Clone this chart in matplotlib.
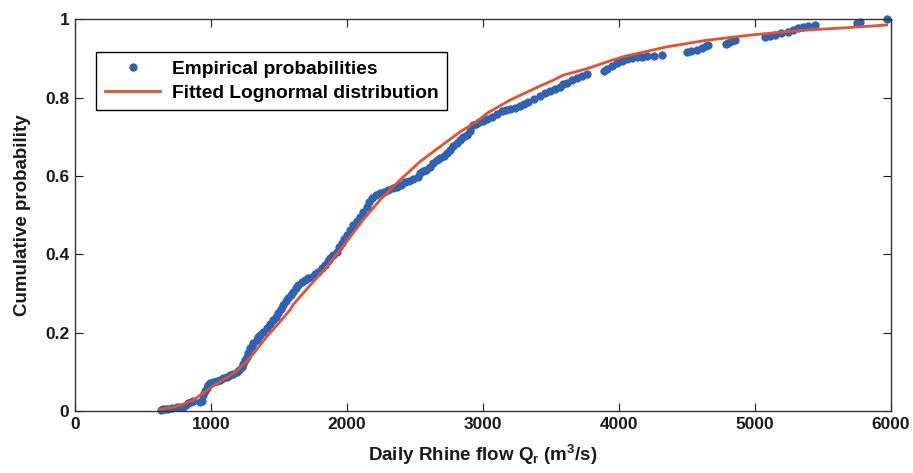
import matplotlib
matplotlib.use('Agg')
import matplotlib.pyplot as plt

plt.rcParams['font.family'] = ['Liberation Sans', 'DejaVu Sans']
plt.rcParams['font.weight'] = 'bold'
plt.rcParams['mathtext.fontset'] = 'custom'
plt.rcParams['mathtext.rm'] = 'Liberation Sans:bold'
plt.rcParams['mathtext.it'] = 'Liberation Sans:bold'
plt.rcParams['mathtext.bf'] = 'Liberation Sans:bold'

# Empirical probabilities
emp_q = [635, 649, 668, 686, 717, 748, 772, 796, 815, 833, 852, 870, 918, 931, 943,
         955, 968, 980, 993, 1018, 1042, 1066, 1091, 1115, 1140, 1165, 1189, 1207,
         1226, 1238, 1250, 1262, 1274, 1290, 1300, 1311, 1336, 1348, 1360, 1385,
         1410, 1434, 1458, 1477, 1495, 1514, 1532, 1550, 1568, 1587, 1605, 1624,
         1642, 1666, 1691, 1716, 1740, 1765, 1789, 1813, 1838, 1857, 1875, 1900,
         1924, 1943, 1961, 1980, 1998, 2022, 2046, 2071, 2096, 2120, 2145, 2163,
         2182, 2212, 2243, 2273, 2304, 2335, 2365, 2396, 2427, 2458, 2488, 2519,
         2537, 2560, 2580, 2610, 2635, 2660, 2684, 2710, 2733, 2757, 2782, 2807,
         2831, 2856, 2880, 2905, 2929, 2950, 2970, 3002, 3033, 3064, 3100, 3137,
         3168, 3198, 3235, 3272, 3300, 3333, 3375, 3419, 3456, 3493, 3530, 3566,
         3591, 3615, 3652, 3689, 3725, 3762, 3890, 3909, 3945, 3983, 4020, 4056,
         4093, 4130, 4166, 4203, 4260, 4313, 4500, 4530, 4570, 4610, 4640, 4657,
         4790, 4804, 4830, 4853, 5074, 5110, 5147, 5190, 5245, 5280, 5319, 5355,
         5392, 5441, 5748, 5772, 5970]
emp_p = [0.002, 0.004, 0.004, 0.005, 0.007, 0.009, 0.010, 0.011, 0.016, 0.020,
         0.023, 0.026, 0.022, 0.026, 0.041, 0.050, 0.058, 0.066, 0.071, 0.073,
         0.076, 0.080, 0.084, 0.088, 0.092, 0.095, 0.099, 0.105, 0.113, 0.121,
         0.130, 0.138, 0.147, 0.160, 0.167, 0.173, 0.182, 0.188, 0.194, 0.201,
         0.211, 0.221, 0.232, 0.241, 0.250, 0.260, 0.271, 0.280, 0.288, 0.297,
         0.305, 0.313, 0.322, 0.330, 0.335, 0.339, 0.343, 0.350, 0.356, 0.364,
         0.373, 0.382, 0.390, 0.398, 0.407, 0.418, 0.428, 0.439, 0.450, 0.462,
         0.475, 0.486, 0.496, 0.509, 0.522, 0.533, 0.543, 0.551, 0.557, 0.560,
         0.564, 0.569, 0.573, 0.578, 0.584, 0.588, 0.592, 0.598, 0.607, 0.612,
         0.616, 0.624, 0.633, 0.640, 0.646, 0.652, 0.658, 0.667, 0.676, 0.685,
         0.692, 0.699, 0.706, 0.716, 0.731, 0.734, 0.737, 0.740, 0.746, 0.752,
         0.759, 0.765, 0.768, 0.771, 0.775, 0.780, 0.785, 0.790, 0.797, 0.805,
         0.811, 0.817, 0.822, 0.827, 0.834, 0.838, 0.845, 0.850, 0.855, 0.860,
         0.868, 0.873, 0.882, 0.890, 0.895, 0.898, 0.901, 0.903, 0.905, 0.907,
         0.908, 0.909, 0.916, 0.919, 0.923, 0.928, 0.932, 0.935, 0.937, 0.940,
         0.944, 0.948, 0.956, 0.959, 0.961, 0.965, 0.969, 0.974, 0.978, 0.981,
         0.984, 0.986, 0.992, 0.994, 1.000]

# Fitted lognormal CDF
fit_q = [625, 700, 796, 870, 919, 980, 1042, 1115, 1189, 1250, 1311, 1410, 1458,
         1581, 1605, 1752, 1826, 1875, 1949, 1998, 2120, 2243, 2390, 2537, 2684,
         2831, 2954, 3027, 3198, 3272, 3419, 3517, 3591, 3762, 3958, 4032, 4350,
         4645, 4988, 5331, 5674, 5968]
fit_p = [0.004, 0.008, 0.017, 0.028, 0.040, 0.055, 0.070, 0.085, 0.102, 0.122,
         0.146, 0.190, 0.208, 0.258, 0.272, 0.330, 0.358, 0.378, 0.411, 0.433,
         0.489, 0.539, 0.590, 0.637, 0.675, 0.713, 0.739, 0.760, 0.794, 0.806,
         0.830, 0.845, 0.858, 0.874, 0.897, 0.905, 0.930, 0.947, 0.961, 0.972,
         0.979, 0.986]

x_ticks = [0, 1000, 2000, 3000, 4000, 5000, 6000]
y_ticks = [0, 0.2, 0.4, 0.6, 0.8, 1]
y_ticklabels = ['0', '0.2', '0.4', '0.6', '0.8', '1']

fig = plt.figure(figsize=(9.13, 4.73), dpi=100)
ax = fig.add_axes([0.0821, 0.1311, 0.8938, 0.8277])

ax.plot(emp_q, emp_p, 'o', color='#2F62B5', markersize=6.0, markeredgewidth=0,
        clip_on=False, label='Empirical probabilities', zorder=2)
ax.plot(fit_q, fit_p, '-', color='#E5512B', linewidth=2.0,
        label='Fitted Lognormal distribution', zorder=3)

ax.set_xlim(0, 6000)
ax.set_ylim(0, 1)
ax.set_xticks(x_ticks)
ax.set_yticks(y_ticks)
ax.set_yticklabels(y_ticklabels)
ax.tick_params(direction='in', length=5.5, width=0.8, top=True, right=True,
               labelsize=12.5, colors='#1a1a1a', pad=4)
for s in ax.spines.values():
    s.set_linewidth(1.0)
    s.set_color('#333333')

ax.set_xlabel(r'Daily Rhine flow Q$_{\mathrm{r}}$ (m$^{\mathrm{3}}$/s)', fontsize=13.5,
              fontweight='bold', color='#1a1a1a', labelpad=8)
ax.set_ylabel('Cumulative probability', fontsize=13.5, fontweight='bold',
              color='#1a1a1a', labelpad=10)

leg = ax.legend(loc='upper left', bbox_to_anchor=(0.026, 0.918), borderaxespad=0,
                fancybox=False, edgecolor='black', framealpha=1, numpoints=1,
                handlelength=2.9, prop={'size': 13.8, 'weight': 'bold'},
                borderpad=0.45, labelspacing=0.35, handletextpad=0.6)
leg.get_frame().set_linewidth(1.0)

fig.savefig('out.png', dpi=100)
